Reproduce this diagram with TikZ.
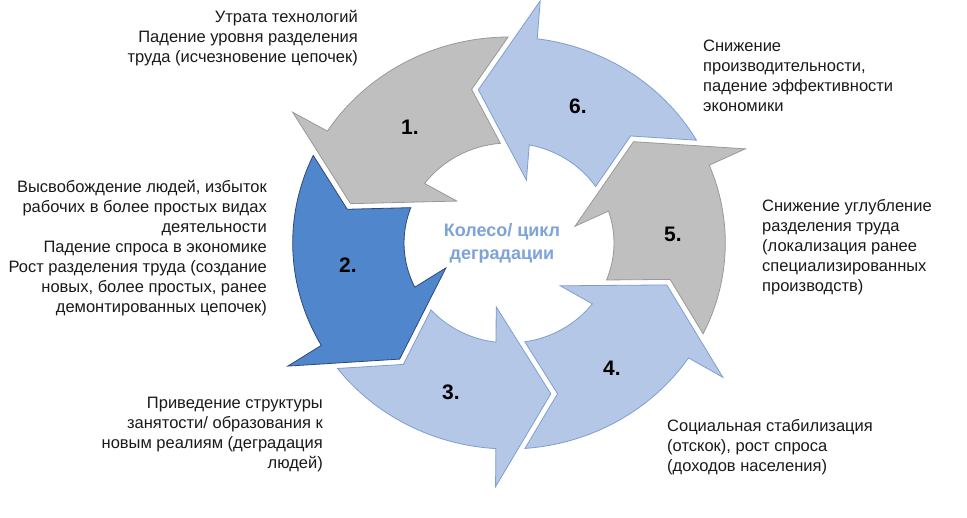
\documentclass[tikz,border=0pt]{standalone}
\usepackage{fontspec}
\setmainfont{Liberation Sans}
\definecolor{grayfill}{HTML}{BFBFBF}
\definecolor{graydraw}{HTML}{999999}
\definecolor{lbfill}{HTML}{B4C7E7}
\definecolor{lbdraw}{HTML}{7F9ED0}
\definecolor{dbfill}{HTML}{4F86CC}
\definecolor{dbdraw}{HTML}{2E4A78}
\definecolor{centertext}{HTML}{7DA3D8}
\definecolor{labeltext}{HTML}{1A1A1A}
% #1 tip angle, #2 angular length back to previous tip, #3 style
\newcommand\cycarrow[3]{%
  \pgfmathsetmacro\tailo{-#2-10.57}%
  \pgfmathsetmacro\tailn{-#2+2.25}%
  \pgfmathsetmacro\taili{-#2-6.1}%
  \begin{scope}[rotate=#1]
    \path[#3] (\tailo:206) -- (\tailn:157.7) -- (\taili:100)
      arc[start angle=\taili, end angle=-21.9, radius=100]
      -- (-25.6:65) -- (0:156) -- (-17.8:244) -- (-18.3:206)
      arc[start angle=-18.3, end angle=\tailo, radius=206] -- cycle;
  \end{scope}}
\begin{document}
\begin{tikzpicture}[x=1pt,y=1pt,
  arrowgray/.style={fill=grayfill, draw=graydraw, line width=0.8pt, line join=miter},
  arrowlight/.style={fill=lbfill, draw=lbdraw, line width=0.8pt, line join=miter},
  arrowdark/.style={fill=dbfill, draw=dbdraw, line width=0.8pt, line join=miter},
  lbl/.style={font=\fontsize{16.5}{20}\selectfont, text=labeltext, inner sep=0pt},
  num/.style={font=\bfseries\fontsize{21}{24}\selectfont, text=black, inner sep=0pt},
  centerlbl/.style={font=\bfseries\fontsize{18}{23}\selectfont, text=centertext, inner sep=0pt, align=center}]
\useasboundingbox (0,0) rectangle (967,-518);
\fill[white] (0,0) rectangle (967,-518);
\begin{scope}[shift={(509,-243)}, xscale=1.05]
  \cycarrow{165.4}{64.6}{arrowgray}
  \cycarrow{228.1}{62.7}{arrowdark}
  \cycarrow{284.8}{56.7}{arrowlight}
  \cycarrow{344.4}{59.6}{arrowlight}
  \cycarrow{40.5}{56.1}{arrowgray}
  \cycarrow{100.8}{60.3}{arrowlight}
\end{scope}
\node[num] (n1) at (410,-127) {1.};
\node[num] (n2) at (348,-265) {2.};
\node[num] (n3) at (451,-392) {3.};
\node[num] (n4) at (612,-368) {4.};
\node[num] (n5) at (673,-234) {5.};
\node[num] (n6) at (578,-106) {6.};
\node[centerlbl, anchor=north] (c) at (502,-220) {\strut Колесо/ цикл\\деградации};
\node[lbl, anchor=north east, align=right] (t1) at (358,-8)
  {\strut Утрата технологий\\Падение уровня разделения\\труда (исчезновение цепочек)};
\node[lbl, anchor=north east, align=right] (t2) at (267,-178)
  {\strut Высвобождение людей, избыток\\рабочих в более простых видах\\деятельности\\Падение спроса в экономике\\Рост разделения труда (создание\\новых, более простых, ранее\\демонтированных цепочек)};
\node[lbl, anchor=north east, align=right] (t3) at (323,-394.5)
  {\strut Приведение структуры\\занятости/ образования к\\новым реалиям (деградация\\людей)};
\node[lbl, anchor=north west, align=left] (t4) at (667,-417.5)
  {\strut Социальная стабилизация\\(отскок), рост спроса\\(доходов населения)};
\node[lbl, anchor=north west, align=left] (t5) at (762,-197.5)
  {\strut Снижение углубление\\разделения труда\\(локализация ранее\\специализированных\\производств)};
\node[lbl, anchor=north west, align=left] (t6) at (703,-37.5)
  {\strut Снижение\\производительности,\\падение эффективности\\экономики};
\end{tikzpicture}
\end{document}
